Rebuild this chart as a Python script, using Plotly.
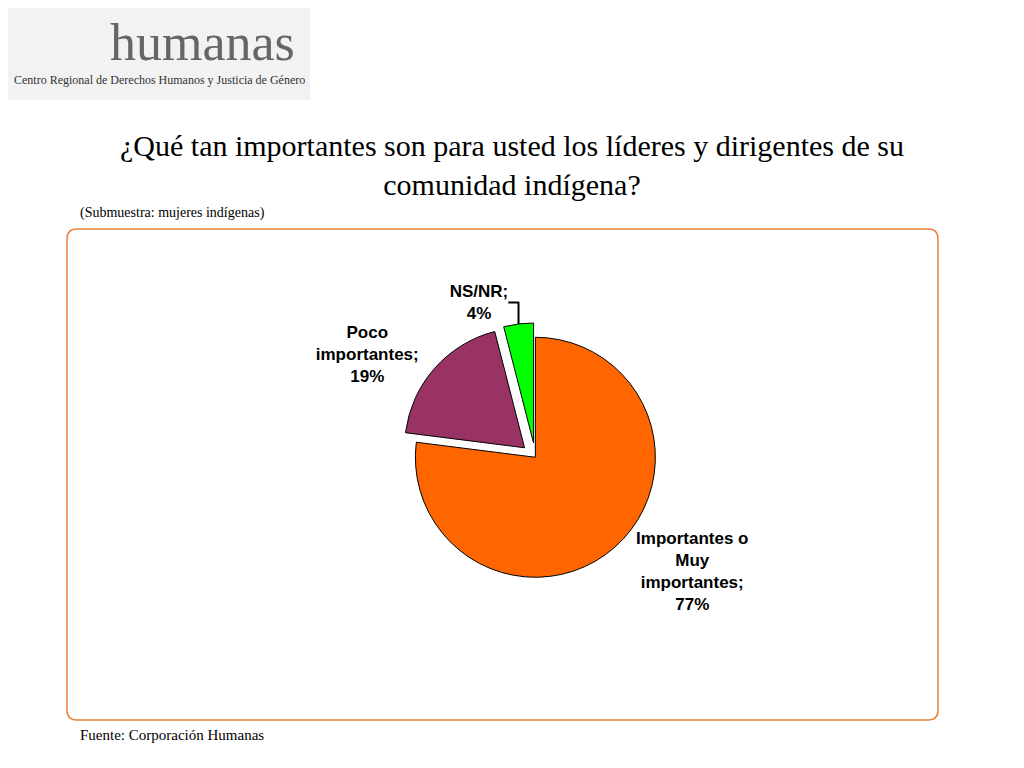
import plotly.graph_objects as go

labels = ["Importantes o<br>Muy<br>importantes", "Poco<br>importantes", "NS/NR"]
values = [77, 19, 4]
colors = ["#FF6600", "#993366", "#00FF00"]
pulls = [0, 0.12, 0.12]

W, H = 1024, 768
OFF = 8
fig = go.Figure()
fig.add_trace(go.Pie(
    labels=labels, values=values, sort=False, direction="clockwise", rotation=0,
    marker=dict(colors=colors, line=dict(color="black", width=1)),
    pull=pulls, texttemplate="<b>%{label};<br>%{percent:.0%}</b>", textposition="outside",
    textfont=dict(family="Liberation Sans", size=17, color="black"),
    showlegend=False, hoverinfo="skip",
    domain=dict(x=[0.29, 0.74], y=[0.24, 0.59]),
))

def px(x): return (x - OFF) / W
def py(y): return 1 - (y - OFF) / H

fig.add_shape(type="path", xref="paper", yref="paper",
    path=f"M {px(77)},{py(229)} L {px(928)},{py(229)} Q {px(938)},{py(229)} {px(938)},{py(239)} "
         f"L {px(938)},{py(710)} Q {px(938)},{py(720)} {px(928)},{py(720)} L {px(77)},{py(720)} "
         f"Q {px(67)},{py(720)} {px(67)},{py(710)} L {px(67)},{py(239)} Q {px(67)},{py(229)} {px(77)},{py(229)} Z",
    line=dict(color="#E8823A", width=1.5))

serif = "Liberation Serif"
def ann(x, y, text, size, color="black", xanchor="left"):
    fig.add_annotation(x=px(x), y=py(y), xref="paper", yref="paper", showarrow=False,
        xanchor=xanchor, yanchor="middle", text=text, align="center",
        font=dict(family=serif, size=size, color=color))

ann(512, 165, "¿Qué tan importantes son para usted los líderes y dirigentes de su<br>comunidad indígena?", 30, xanchor="center")
ann(78, 213, "(Submuestra: mujeres indígenas)", 14)
ann(78, 735, "Fuente: Corporación Humanas", 15)
ann(108, 42, "humanas", 52, "#666666")
ann(12, 80, "Centro Regional de Derechos Humanos y Justicia de Género", 12, "#333333")
fig.add_shape(type="rect", xref="paper", yref="paper", x0=px(0), x1=px(310), y0=py(100), y1=py(0),
    fillcolor="#F2F2F2", line=dict(width=0), layer="below")

fig.update_layout(width=W, height=H, margin=dict(l=0, r=0, t=0, b=0),
    paper_bgcolor="white", plot_bgcolor="white")
fig.write_html("out.html")
